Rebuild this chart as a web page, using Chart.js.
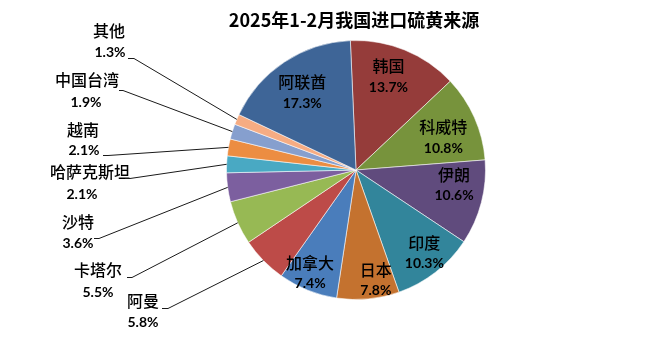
<!DOCTYPE html>
<html>
<head>
<meta charset="utf-8">
<script src="https://cdn.jsdelivr.net/npm/chart.js@4"></script>
<style>
  html, body { margin: 0; padding: 0; background: #ffffff; }
  #wrap { width: 662px; height: 339px; }
</style>
</head>
<body>
<div id="wrap"><canvas id="c" width="662" height="339"></canvas></div>
<script>
// 2025年1-2月硫黄进口来源（占比，%），顺时针排列
const categories = ['韩国', '科威特', '伊朗', '印度', '日本', '加拿大', '阿曼', '卡塔尔', '沙特', '哈萨克斯坦', '越南', '中国台湾', '其他', '阿联酋'];
const shares = [13.7, 10.8, 10.6, 10.3, 7.8, 7.4, 5.8, 5.5, 3.6, 2.1, 2.1, 1.9, 1.3, 17.3];
const titleText = '2025年1-2月我国进口硫黄来源';

const sliceColors = ['#953C3A', '#77933C', '#604B7D', '#32859B', '#C4722F', '#4A7DBB',
  '#BD4B48', '#97B954', '#7C5F9F', '#49A9C3', '#EC8D42', '#869FCE', '#F6AC83', '#3E6597'];

// inside labels: radius fraction and angle nudge (degrees); null = outside label
const insideLayout = [
  [0.765, -3], [0.72, 3.4], [0.766, -5.9], [0.83, -1.6], [0.86, -4.9], [0.87, 2.1],
  null, null, null, null, null, null, null, [0.73, -1.1]
];
// outside labels: name centre, percent centre, leader start point
const outsideLayout = {
  6:  { name: [143, 301], pct: [143, 322], from: [162, 308], bend: 6 },
  7:  { name: [98, 270],  pct: [98, 292],  from: [127, 277], bend: 5 },
  8:  { name: [78, 222],  pct: [78, 243],  from: [94, 238],  bend: 5 },
  9:  { name: [90, 172],  pct: [82, 194],  from: [125, 178], bend: 5 },
  10: { name: [83, 130],  pct: [84, 150],  from: [103, 155], bend: 5 },
  11: { name: [87, 80],   pct: [86, 102],  from: [119, 90],  bend: 4 },
  12: { name: [109, 31],  pct: [110, 52],  from: [128, 58],  bend: 6 }
};

const NAME_FONT = '500 16px "Noto Sans CJK SC"';
const PCT_FONT = 'bold 14px Lato';

const labelPlugin = {
  id: 'sliceLabels',
  afterDatasetsDraw(chart) {
    const ctx = chart.ctx;
    const arcs = chart.getDatasetMeta(0).data;
    ctx.save();
    ctx.textAlign = 'center';
    ctx.textBaseline = 'middle';
    ctx.fillStyle = '#000000';
    arcs.forEach((arc, i) => {
      const p = arc.getProps(['x', 'y', 'startAngle', 'endAngle', 'outerRadius'], true);
      const mid = (p.startAngle + p.endAngle) / 2;
      const pctText = shares[i].toFixed(1) + '%';
      const inside = insideLayout[i];
      if (inside) {
        const a = mid + inside[1] * Math.PI / 180;
        const r = p.outerRadius * inside[0];
        const cx = p.x + Math.cos(a) * r;
        const cy = p.y + Math.sin(a) * r;
        ctx.font = NAME_FONT;
        ctx.fillText(categories[i], cx, cy - 10);
        ctx.font = PCT_FONT;
        ctx.fillText(pctText, cx, cy + 11);
      } else {
        const o = outsideLayout[i];
        if (!o) return;
        ctx.font = NAME_FONT;
        ctx.fillText(categories[i], o.name[0], o.name[1]);
        ctx.font = PCT_FONT;
        ctx.fillText(pctText, o.pct[0], o.pct[1]);
        const ex = p.x + Math.cos(mid) * p.outerRadius;
        const ey = p.y + Math.sin(mid) * p.outerRadius;
        ctx.beginPath();
        ctx.strokeStyle = '#1a1a1a';
        ctx.lineWidth = 1;
        ctx.moveTo(o.from[0], o.from[1] + 0.5);
        ctx.lineTo(o.from[0] + o.bend, o.from[1] + 0.5);
        ctx.lineTo(ex, ey);
        ctx.stroke();
      }
    });
    // chart title
    ctx.font = 'bold 18px "Noto Sans CJK SC"';
    ctx.fillText(titleText, 354, 20);
    ctx.restore();
  }
};

new Chart(document.getElementById('c'), {
  type: 'pie',
  data: {
    labels: categories,
    datasets: [{
      data: shares,
      backgroundColor: sliceColors,
      borderColor: 'rgba(255,255,255,0.55)',
      borderWidth: 1
    }]
  },
  options: {
    responsive: false,
    animation: false,
    rotation: -2.5,
    layout: { padding: { top: 40, bottom: 39, left: 226, right: 176 } },
    plugins: {
      legend: { display: false },
      title: { display: false },
      tooltip: { enabled: false }
    }
  },
  plugins: [labelPlugin]
});
</script>
</body>
</html>
